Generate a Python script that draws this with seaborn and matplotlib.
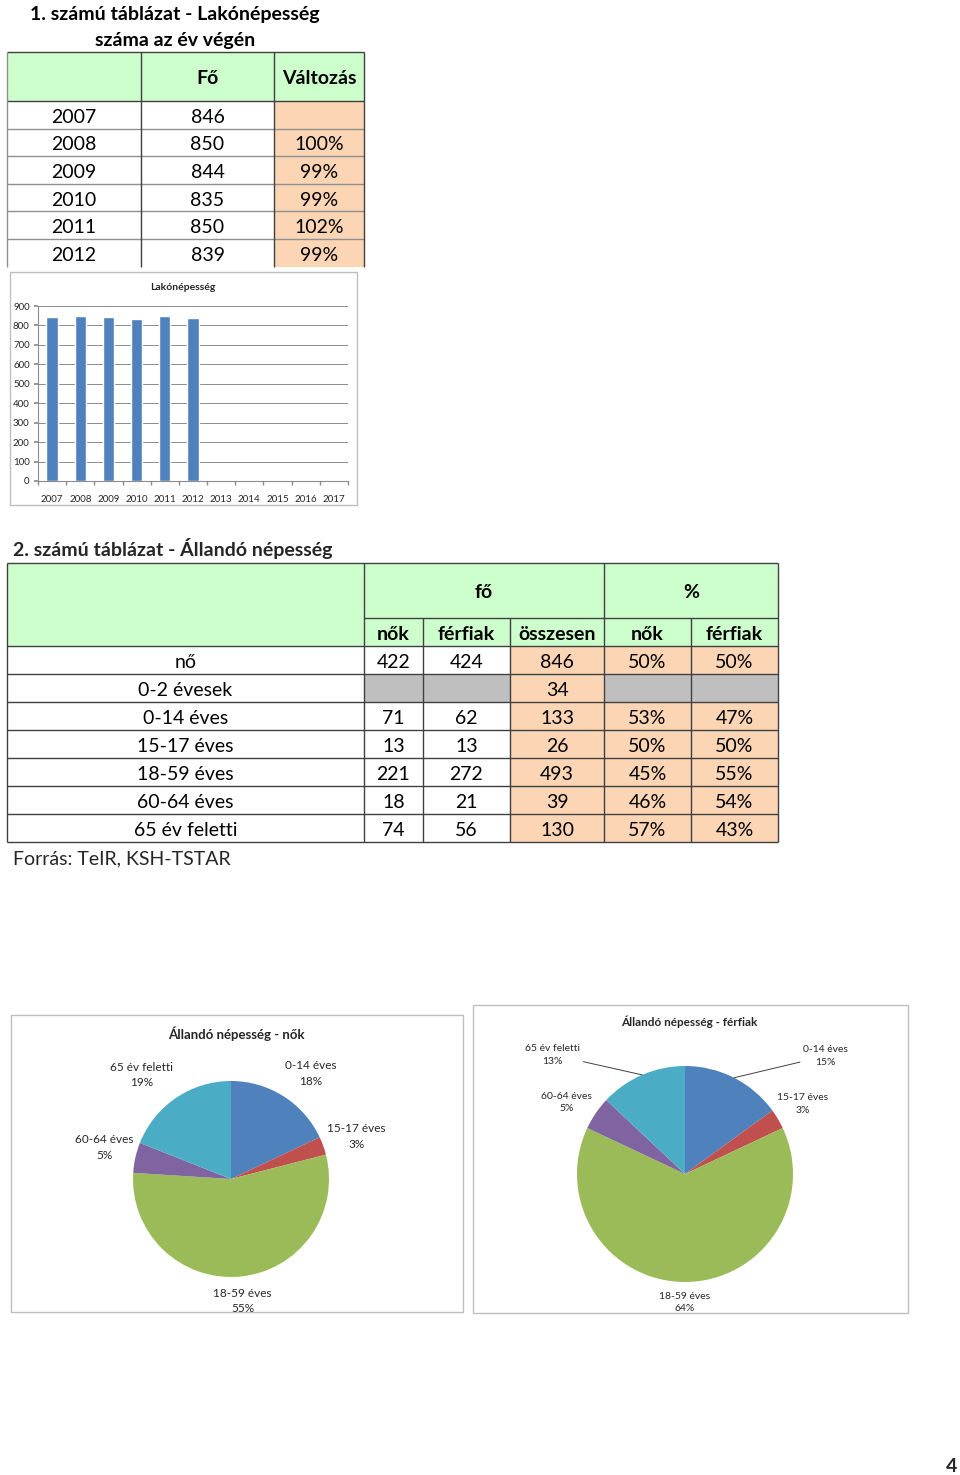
import numpy as np
import pandas as pd
import matplotlib
matplotlib.use("Agg")
import matplotlib.pyplot as plt
import seaborn as sns
from matplotlib.patches import Rectangle

sns.set_theme(style="white")
plt.rcParams["font.family"] = ["Lato", "DejaVu Sans"]

# 1. táblázat - lakónépesség
years_t1 = ["2007", "2008", "2009", "2010", "2011", "2012"]
lakok = [846, 850, 844, 835, 850, 839]
valtozas = [None, 100, 99, 99, 102, 99]

# oszlopdiagram tengelye
chart_years = [str(y) for y in range(2007, 2018)]

# 2. táblázat - állandó népesség
groups = ["nő", "0-2 évesek", "0-14 éves", "15-17 éves", "18-59 éves", "60-64 éves", "65 év feletti"]
nok = [422, None, 71, 13, 221, 18, 74]
ferfiak = [424, None, 62, 13, 272, 21, 56]
osszesen = [846, 34, 133, 26, 493, 39, 130]
nok_pct = [50, None, 53, 50, 45, 46, 57]
ferfi_pct = [50, None, 47, 50, 55, 54, 43]

# tortadiagramok (%)
pie_groups = ["0-14 éves", "15-17 éves", "18-59 éves", "60-64 éves", "65 év feletti"]
pie_nok = [18, 3, 55, 5, 19]
pie_ferfiak = [15, 3, 64, 5, 13]

GREEN = "#CCFFCC"
ORANGE = "#FCD5B4"
GREY = "#BFBFBF"
BLUE = "#4F81BD"
pie_colors = ["#4F81BD", "#C0504D", "#9BBB59", "#8064A2", "#4BACC6"]
FRAME = "#BFBFBF"
DY = 2.5  # szöveg függőleges igazítása

fig = plt.figure(figsize=(9.6, 14.75), dpi=100)
page = fig.add_axes([0, 0, 1, 1])
page.set_xlim(0, 960)
page.set_ylim(1475, 0)
page.axis("off")


def cell(x0, x1, y0, y1, color):
    page.add_patch(Rectangle((x0, y0), x1 - x0, y1 - y0, facecolor=color, edgecolor="none", zorder=1))


def hline(y, x0, x1, color="#404040", lw=1.0):
    page.plot([x0, x1], [y, y], color=color, lw=lw, zorder=2, solid_capstyle="butt")


def vline(x, y0, y1, color="#404040", lw=1.0):
    page.plot([x, x], [y0, y1], color=color, lw=lw, zorder=2, solid_capstyle="butt")


def txt(x, y, s, size=14, bold=False, ha="center"):
    page.text(x, y + DY, s, ha=ha, va="center", fontsize=size,
              fontweight="bold" if bold else "normal", color="black", zorder=3)


def fmt(v, pct=False):
    if v is None:
        return ""
    return f"{v}%" if pct else str(v)


# ---- 1. táblázat
txt(175, 12, "1. számú táblázat - Lakónépesség", size=14, bold=True)
txt(175, 38, "száma az év végén", size=14, bold=True)

c1 = [7, 141, 274, 364]
h_top, h_bot = 52, 101
rh1 = 27.6
cell(c1[0], c1[-1], h_top, h_bot, GREEN)
for i in range(len(years_t1)):
    y0 = h_bot + i * rh1
    cell(c1[2], c1[3], y0, y0 + rh1, ORANGE)
    if i > 0:
        hline(y0, c1[0], c1[-1], color="#909090")
    cy = y0 + rh1 / 2
    txt((c1[0] + c1[1]) / 2, cy, years_t1[i])
    txt((c1[1] + c1[2]) / 2, cy, fmt(lakok[i]))
    txt((c1[2] + c1[3]) / 2, cy, fmt(valtozas[i], True))
t1_bottom = h_bot + len(years_t1) * rh1
hline(h_top, c1[0], c1[-1])
hline(h_bot, c1[0], c1[-1])
vline(c1[0], h_top, t1_bottom, color="#909090")
for x in c1[1:]:
    vline(x, h_top, t1_bottom)
txt((c1[1] + c1[2]) / 2, (h_top + h_bot) / 2, "Fő", bold=True)
txt((c1[2] + c1[3]) / 2, (h_top + h_bot) / 2, "Változás", bold=True)

# ---- oszlopdiagram
page.add_patch(Rectangle((10, 272), 347, 233, facecolor="white", edgecolor=FRAME, lw=1, zorder=4))
page.text(183, 288, "Lakónépesség", ha="center", va="center", fontsize=7.5, fontweight="bold", zorder=5)

bar_df = pd.DataFrame({"ev": years_t1, "fo": lakok})
axb = fig.add_axes([38 / 960, 1 - 481 / 1475, 310 / 960, 175 / 1475])
sns.barplot(data=bar_df, x="ev", y="fo", order=chart_years, color=BLUE, width=0.4,
            saturation=1, ax=axb, zorder=3)
axb.set_ylim(0, 900)
axb.set_yticks(range(0, 901, 100))
axb.set_xlim(-0.5, len(chart_years) - 0.5)
axb.set_xlabel("")
axb.set_ylabel("")
axb.grid(axis="y", color="#8C8C8C", lw=0.7, zorder=0)
axb.set_axisbelow(True)
for s in ["top", "right"]:
    axb.spines[s].set_visible(False)
for s in ["left", "bottom"]:
    axb.spines[s].set_color("#8C8C8C")
    axb.spines[s].set_linewidth(0.8)
axb.tick_params(axis="x", length=0, labelsize=7, pad=10)
axb.tick_params(axis="y", length=3, color="#8C8C8C", labelsize=7, pad=3, left=True)
axb.set_xticks(np.arange(-0.5, len(chart_years), 1), minor=True)
axb.tick_params(axis="x", which="minor", length=3, color="#8C8C8C", bottom=True)

# ---- 2. táblázat
page.text(13, 548.5, "2. számú táblázat - Állandó népesség", ha="left", va="center",
          fontsize=14, fontweight="bold", zorder=3)
c2 = [7, 364, 423, 510, 604, 691, 778]
r_top, r_mid, r_head = 563, 618, 646
rh2 = 28
cell(c2[0], c2[-1], r_top, r_head, GREEN)
cols = [nok, ferfiak, osszesen, nok_pct, ferfi_pct]
pct_flags = [False, False, False, True, True]
for i, g in enumerate(groups):
    y0 = r_head + i * rh2
    cy = y0 + rh2 / 2
    txt((c2[0] + c2[1]) / 2, cy, g)
    for j, (col, pf) in enumerate(zip(cols, pct_flags)):
        x0, x1 = c2[j + 1], c2[j + 2]
        if col[i] is None:
            cell(x0, x1, y0, y0 + rh2, GREY)
        elif j >= 2:
            cell(x0, x1, y0, y0 + rh2, ORANGE)
        txt((x0 + x1) / 2, cy, fmt(col[i], pf))
t2_bottom = r_head + len(groups) * rh2
for k in range(len(groups) + 1):
    hline(r_head + k * rh2, c2[0], c2[-1])
hline(r_top, c2[0], c2[-1])
hline(r_mid, c2[1], c2[-1])
vline(c2[0], r_top, t2_bottom)
vline(c2[-1], r_top, t2_bottom)
for x in [c2[1], c2[4]]:
    vline(x, r_top, t2_bottom)
for x in [c2[2], c2[3], c2[5]]:
    vline(x, r_mid, t2_bottom)
txt((c2[1] + c2[4]) / 2, (r_top + r_mid) / 2, "fő", bold=True)
txt((c2[4] + c2[6]) / 2, (r_top + r_mid) / 2, "%", bold=True)
for j, h in enumerate(["nők", "férfiak", "összesen", "nők", "férfiak"]):
    txt((c2[j + 1] + c2[j + 2]) / 2, (r_mid + r_head) / 2, h, bold=True)
page.text(13, 856 + DY, "Forrás: TeIR, KSH-TSTAR", ha="left", va="center", fontsize=14, zorder=3)


# ---- tortadiagramok
def pie_chart(frame, title, title_xy, title_size, center, radius, values, label_pos, label_size, leaders):
    fx, fy, fw, fh = frame
    page.add_patch(Rectangle((fx, fy), fw, fh, facecolor="white", edgecolor=FRAME, lw=1, zorder=4))
    page.text(title_xy[0], title_xy[1], title, ha="center", va="center",
              fontsize=title_size, fontweight="bold", zorder=5)
    cx, cy = center
    ax = fig.add_axes([(cx - radius) / 960, 1 - (cy + radius) / 1475, 2 * radius / 960, 2 * radius / 1475])
    wedges, _ = ax.pie(values, colors=pie_colors, startangle=90, counterclock=False,
                       wedgeprops=dict(linewidth=0))
    ax.set_xlim(-1, 1)
    ax.set_ylim(-1, 1)
    for w, name, val, (dist, shift), lead in zip(wedges, pie_groups, values, label_pos, leaders):
        mid = np.deg2rad((w.theta1 + w.theta2) / 2)
        ang = mid + np.deg2rad(shift)
        pos = (dist * np.cos(ang), dist * np.sin(ang))
        if lead:
            ax.annotate(f"{name}\n{val}%", xy=(np.cos(mid), np.sin(mid)), xytext=pos,
                        ha="center", va="center", fontsize=label_size, linespacing=1.5,
                        annotation_clip=False,
                        arrowprops=dict(arrowstyle="-", color="#404040", lw=0.7,
                                        shrinkA=0, shrinkB=0))
        else:
            ax.text(pos[0], pos[1], f"{name}\n{val}%", ha="center", va="center",
                    fontsize=label_size, linespacing=1.5, clip_on=False)
    return ax


pie_chart((11, 1015, 452, 297), "Állandó népesség - nők", (236, 1034), 9.5, (231, 1179), 98,
          pie_nok, [(1.35, -4.6), (1.35, -1), (1.25, 0), (1.33, -1.4), (1.4, 6.4)], 8.5,
          [False] * 5)

pie_chart((473, 1005, 435, 308), "Állandó népesség - férfiak", (689, 1022), 8.5, (685, 1174), 108,
          pie_ferfiak, [(1.7, -23), (1.27, 0), (1.19, 0), (1.28, 3), (1.65, 24.6)], 7.5,
          [True, False, False, False, True])

page.text(952, 1467, "4", ha="center", va="center", fontsize=14, fontweight="bold")

fig.savefig("out.png", dpi=100, facecolor="white")
